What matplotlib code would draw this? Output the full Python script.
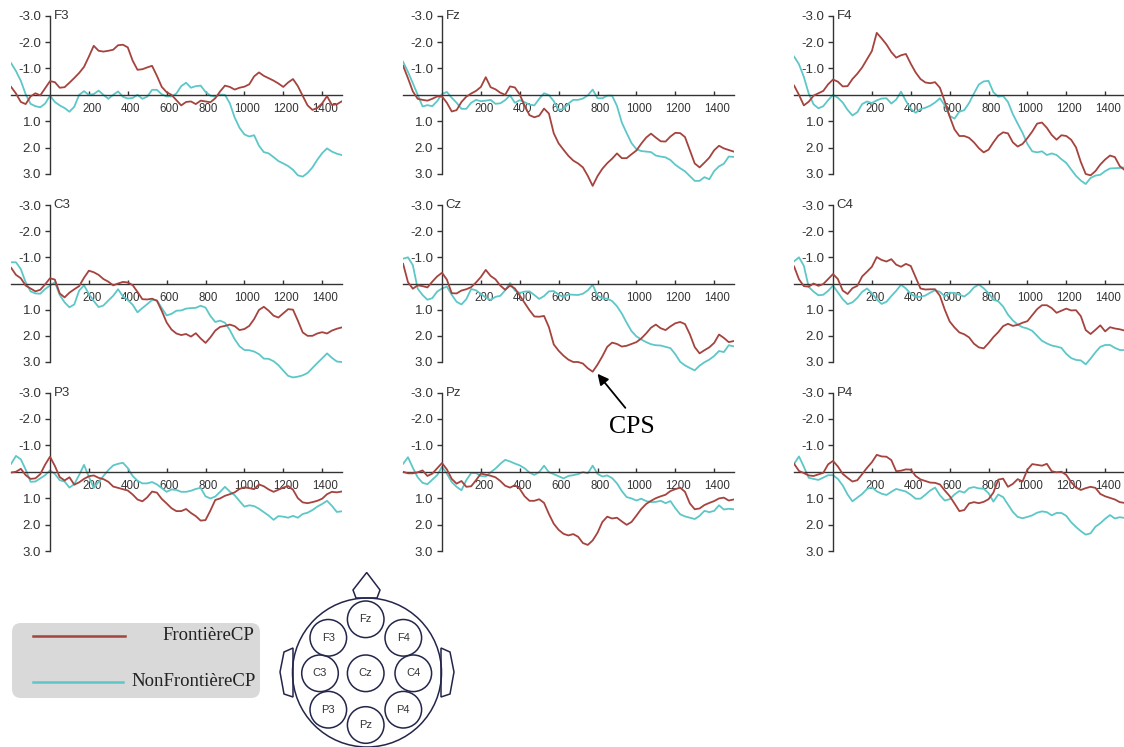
import numpy as np
import matplotlib.pyplot as plt
from matplotlib.patches import Circle, Polygon, FancyBboxPatch
from matplotlib.transforms import ScaledTranslation

# time axis (ms), channels and conditions
times = [-200, -175, -150, -125, -100, -75, -50, -25, 0, 25,
         50, 75, 100, 125, 150, 175, 200, 225, 250, 275,
         300, 325, 350, 375, 400, 425, 450, 475, 500, 525,
         550, 575, 600, 625, 650, 675, 700, 725, 750, 775,
         800, 825, 850, 875, 900, 925, 950, 975, 1000, 1025,
         1050, 1075, 1100, 1125, 1150, 1175, 1200, 1225, 1250, 1275,
         1300, 1325, 1350, 1375, 1400, 1425, 1450, 1475, 1500]
channels = ['F3', 'Fz', 'F4', 'C3', 'Cz', 'C4', 'P3', 'Pz', 'P4']
conditions = ['FrontièreCP', 'NonFrontièreCP']

# amplitudes (microvolts), FrontièreCP
front_F3 = [-0.3, -0.05, 0.27, 0.35, 0.06, -0.06, 0.02, -0.25, -0.52, -0.48,
            -0.27, -0.29, -0.46, -0.64, -0.83, -1.06, -1.45, -1.86, -1.67, -1.64,
            -1.67, -1.71, -1.88, -1.9, -1.8, -1.3, -0.95, -0.97, -1.04, -1.1,
            -0.72, -0.3, -0.1, 0.0, 0.2, 0.4, 0.27, 0.25, 0.35, 0.22,
            0.25, 0.28, 0.13, -0.13, -0.35, -0.3, -0.2, -0.27, -0.31, -0.4,
            -0.7, -0.85, -0.72, -0.63, -0.54, -0.43, -0.3, -0.47, -0.6, -0.33,
            0.04, 0.4, 0.57, 0.5, 0.32, 0.05, 0.38, 0.36, 0.25]
front_Fz = [-1.1, -0.63, -0.13, 0.15, 0.19, 0.22, 0.15, 0.06, 0.06, 0.3,
            0.63, 0.58, 0.27, 0.07, -0.05, -0.15, -0.3, -0.67, -0.29, -0.21,
            -0.08, 0.0, -0.32, -0.28, -0.01, 0.41, 0.77, 0.85, 0.79, 0.52,
            0.71, 1.46, 1.84, 2.08, 2.31, 2.49, 2.6, 2.75, 3.07, 3.45,
            3.08, 2.8, 2.59, 2.42, 2.22, 2.4, 2.4, 2.25, 2.11, 1.85,
            1.62, 1.47, 1.62, 1.76, 1.77, 1.58, 1.44, 1.45, 1.6, 2.1,
            2.6, 2.75, 2.57, 2.38, 2.1, 1.93, 2.03, 2.09, 2.15]
front_F4 = [-0.35, 0.0, 0.4, 0.26, 0.03, -0.06, -0.15, -0.4, -0.58, -0.5,
            -0.32, -0.33, -0.6, -0.8, -1.04, -1.35, -1.66, -2.35, -2.14, -1.91,
            -1.62, -1.41, -1.5, -1.55, -1.18, -0.85, -0.6, -0.47, -0.44, -0.48,
            -0.27, 0.25, 0.82, 1.31, 1.56, 1.56, 1.63, 1.8, 2.02, 2.18,
            2.08, 1.8, 1.55, 1.42, 1.46, 1.8, 1.96, 1.86, 1.64, 1.39,
            1.09, 1.05, 1.25, 1.52, 1.7, 1.53, 1.56, 1.7, 1.99, 2.55,
            3.0, 3.05, 2.89, 2.64, 2.45, 2.3, 2.36, 2.7, 2.85]
front_C3 = [-0.6, -0.33, -0.2, 0.08, 0.19, 0.3, 0.24, 0.03, -0.2, -0.15,
            0.38, 0.53, 0.35, 0.22, 0.1, -0.22, -0.49, -0.43, -0.33, -0.17,
            -0.07, 0.07, 0.0, -0.06, -0.04, 0.06, 0.32, 0.6, 0.61, 0.58,
            0.66, 1.05, 1.49, 1.76, 1.91, 1.97, 1.93, 2.03, 1.9, 2.1,
            2.27, 2.06, 1.8, 1.66, 1.62, 1.57, 1.63, 1.78, 1.74, 1.62,
            1.36, 1.01, 0.89, 1.04, 1.23, 1.3, 1.14, 0.98, 1.0, 1.42,
            1.87, 2.0, 2.0, 1.91, 1.86, 1.91, 1.8, 1.73, 1.68]
front_Cz = [-0.75, -0.05, 0.2, 0.07, 0.1, 0.15, -0.07, -0.27, -0.41, -0.15,
            0.37, 0.38, 0.27, 0.22, 0.14, -0.04, -0.25, -0.52, -0.29, -0.16,
            0.08, 0.24, 0.08, 0.19, 0.46, 0.74, 1.02, 1.26, 1.27, 1.24,
            1.67, 2.33, 2.57, 2.76, 2.91, 3.0, 3.0, 3.06, 3.24, 3.37,
            3.1, 2.78, 2.42, 2.26, 2.31, 2.41, 2.38, 2.31, 2.24, 2.1,
            1.91, 1.69, 1.57, 1.71, 1.78, 1.64, 1.52, 1.47, 1.55, 1.94,
            2.43, 2.67, 2.55, 2.44, 2.27, 1.95, 2.08, 2.24, 2.2]
front_C4 = [-0.65, -0.16, 0.1, 0.12, 0.0, 0.09, 0.02, -0.17, -0.36, -0.17,
            0.27, 0.4, 0.18, 0.09, -0.27, -0.45, -0.64, -1.01, -0.9, -0.84,
            -0.93, -0.72, -0.64, -0.75, -0.67, -0.24, 0.19, 0.23, 0.22, 0.22,
            0.47, 1.0, 1.45, 1.68, 1.87, 1.94, 2.06, 2.3, 2.44, 2.48,
            2.28, 2.05, 1.86, 1.63, 1.54, 1.62, 1.58, 1.5, 1.44, 1.21,
            0.98, 0.83, 0.83, 0.94, 1.12, 1.04, 0.96, 1.03, 1.02, 1.25,
            1.78, 1.93, 1.77, 1.6, 1.83, 1.67, 1.72, 1.75, 1.8]
front_P3 = [0.03, 0.0, -0.11, 0.13, 0.27, 0.25, 0.09, -0.27, -0.57, -0.22,
            0.2, 0.33, 0.21, 0.49, 0.4, 0.27, 0.17, 0.14, 0.23, 0.28,
            0.38, 0.56, 0.61, 0.66, 0.71, 0.86, 1.05, 1.12, 0.97, 0.75,
            0.79, 1.03, 1.2, 1.38, 1.49, 1.49, 1.41, 1.56, 1.68, 1.85,
            1.83, 1.47, 1.07, 1.01, 0.91, 0.85, 0.78, 0.65, 0.59, 0.62,
            0.66, 0.48, 0.55, 0.67, 0.76, 0.68, 0.6, 0.54, 0.68, 1.0,
            1.16, 1.19, 1.15, 1.1, 1.02, 0.85, 0.76, 0.78, 0.75]
front_Pz = [0.0, 0.06, 0.06, 0.02, -0.05, 0.16, 0.07, -0.13, -0.33, -0.09,
            0.27, 0.45, 0.35, 0.57, 0.55, 0.32, 0.07, 0.11, 0.15, 0.21,
            0.35, 0.53, 0.6, 0.51, 0.65, 0.93, 1.1, 1.1, 1.04, 1.18,
            1.6, 1.97, 2.2, 2.35, 2.41, 2.36, 2.46, 2.7, 2.77, 2.6,
            2.31, 1.9, 1.7, 1.77, 1.74, 1.88, 2.01, 1.9, 1.66, 1.41,
            1.22, 1.1, 1.0, 0.93, 0.87, 0.73, 0.66, 0.6, 0.76, 1.2,
            1.42, 1.39, 1.26, 1.18, 1.11, 1.01, 0.98, 1.09, 1.05]
front_P4 = [-0.3, -0.03, 0.05, 0.14, 0.16, 0.1, 0.04, -0.28, -0.41, -0.2,
            0.08, 0.23, 0.37, 0.32, 0.09, -0.15, -0.36, -0.64, -0.58, -0.57,
            -0.44, -0.02, -0.04, -0.09, -0.08, 0.16, 0.29, 0.35, 0.41, 0.42,
            0.48, 0.71, 0.92, 1.2, 1.49, 1.45, 1.2, 1.15, 1.19, 1.14,
            1.04, 0.79, 0.3, 0.26, 0.57, 0.46, 0.28, 0.37, -0.08, -0.29,
            -0.26, -0.23, -0.3, -0.02, 0.02, 0.0, 0.12, 0.39, 0.6, 0.69,
            0.62, 0.57, 0.61, 0.84, 0.93, 0.99, 1.05, 1.15, 1.18]

# amplitudes (microvolts), NonFrontièreCP
nonfront_F3 = [-1.2, -0.9, -0.53, -0.02, 0.34, 0.43, 0.47, 0.33, 0.03, 0.27,
               0.4, 0.5, 0.64, 0.45, 0.0, -0.14, 0.0, -0.03, -0.16, 0.0,
               0.15, 0.0, -0.13, 0.07, 0.14, 0.12, 0.0, 0.15, 0.07, -0.19,
               -0.19, -0.02, 0.06, 0.06, -0.05, -0.33, -0.46, -0.27, -0.33, -0.35,
               -0.11, 0.03, 0.07, -0.01, 0.0, 0.32, 0.86, 1.25, 1.5, 1.58,
               1.53, 1.93, 2.17, 2.22, 2.36, 2.51, 2.6, 2.7, 2.84, 3.05,
               3.1, 2.96, 2.75, 2.46, 2.21, 2.03, 2.15, 2.23, 2.28]
nonfront_Fz = [-1.25, -0.87, -0.44, 0.0, 0.44, 0.39, 0.43, 0.24, -0.03, -0.11,
               0.11, 0.3, 0.53, 0.53, 0.3, 0.19, 0.24, 0.22, 0.19, 0.34,
               0.32, 0.2, 0.02, 0.3, 0.2, 0.28, 0.37, 0.4, 0.15, -0.06,
               0.01, 0.24, 0.57, 0.54, 0.33, 0.19, 0.19, 0.14, 0.02, -0.2,
               0.13, 0.13, 0.03, 0.03, 0.42, 1.05, 1.45, 1.83, 2.06, 2.13,
               2.15, 2.17, 2.3, 2.34, 2.37, 2.47, 2.65, 2.78, 2.9, 3.08,
               3.26, 3.26, 3.12, 3.2, 2.89, 2.71, 2.61, 2.34, 2.35]
nonfront_F4 = [-1.45, -1.16, -0.68, -0.05, 0.36, 0.51, 0.43, 0.2, 0.0, 0.11,
               0.29, 0.57, 0.78, 0.66, 0.35, 0.25, 0.31, 0.21, 0.14, 0.13,
               0.33, 0.18, -0.12, 0.23, 0.53, 0.68, 0.54, 0.49, 0.41, 0.29,
               0.13, 0.4, 0.8, 0.9, 0.64, 0.58, 0.31, -0.05, -0.39, -0.51,
               -0.53, -0.1, 0.07, 0.04, 0.27, 0.73, 1.09, 1.44, 1.86, 2.14,
               2.18, 2.14, 2.28, 2.22, 2.28, 2.44, 2.58, 2.83, 3.07, 3.25,
               3.38, 3.15, 3.06, 3.03, 2.89, 2.79, 2.78, 2.77, 2.75]
nonfront_C3 = [-0.81, -0.81, -0.55, -0.04, 0.3, 0.38, 0.39, 0.21, 0.08, -0.05,
               0.44, 0.72, 0.91, 0.8, 0.27, 0.07, 0.4, 0.67, 0.9, 0.84,
               0.65, 0.47, 0.22, 0.49, 0.63, 0.81, 1.1, 0.94, 0.79, 0.63,
               0.64, 0.94, 1.22, 1.16, 1.04, 1.03, 0.96, 0.94, 0.93, 0.85,
               0.92, 1.24, 1.47, 1.42, 1.5, 1.78, 2.13, 2.4, 2.54, 2.55,
               2.6, 2.7, 2.87, 2.88, 2.97, 3.12, 3.33, 3.53, 3.59, 3.56,
               3.51, 3.42, 3.23, 3.04, 2.86, 2.67, 2.84, 2.98, 3.0]
nonfront_Cz = [-0.95, -1.0, -0.7, 0.2, 0.44, 0.62, 0.56, 0.31, 0.19, 0.12,
               0.43, 0.7, 0.8, 0.6, 0.21, 0.26, 0.4, 0.54, 0.63, 0.51,
               0.47, 0.26, -0.02, 0.27, 0.36, 0.31, 0.3, 0.44, 0.59, 0.48,
               0.3, 0.29, 0.43, 0.52, 0.42, 0.43, 0.44, 0.39, 0.26, 0.05,
               0.46, 0.57, 0.58, 0.67, 0.87, 1.15, 1.5, 1.82, 2.02, 2.14,
               2.24, 2.32, 2.36, 2.37, 2.42, 2.47, 2.7, 2.99, 3.13, 3.23,
               3.32, 3.14, 3.01, 2.91, 2.77, 2.58, 2.62, 2.36, 2.4]
nonfront_C4 = [-0.85, -1.0, -0.68, 0.13, 0.31, 0.45, 0.43, 0.28, 0.08, 0.34,
               0.6, 0.79, 0.72, 0.55, 0.32, 0.19, 0.37, 0.61, 0.78, 0.7,
               0.48, 0.28, 0.05, 0.19, 0.4, 0.51, 0.51, 0.46, 0.35, 0.26,
               0.32, 0.49, 0.35, 0.36, 0.43, 0.5, 0.36, 0.15, 0.04, 0.18,
               0.37, 0.62, 0.68, 0.88, 1.19, 1.41, 1.57, 1.67, 1.72, 1.81,
               2.0, 2.19, 2.29, 2.37, 2.41, 2.46, 2.69, 2.85, 2.92, 2.94,
               3.09, 2.87, 2.63, 2.42, 2.35, 2.35, 2.46, 2.54, 2.55]
nonfront_P3 = [-0.3, -0.6, -0.47, -0.08, 0.38, 0.37, 0.25, 0.13, -0.05, 0.08,
               0.32, 0.37, 0.6, 0.47, 0.12, -0.26, 0.19, 0.61, 0.38, 0.16,
               -0.06, -0.24, -0.3, -0.34, -0.14, 0.16, 0.34, 0.44, 0.44, 0.39,
               0.48, 0.62, 0.76, 0.67, 0.69, 0.76, 0.76, 0.72, 0.65, 0.61,
               0.93, 1.01, 0.94, 0.76, 0.57, 0.75, 0.89, 1.11, 1.32, 1.27,
               1.3, 1.4, 1.53, 1.66, 1.82, 1.68, 1.7, 1.74, 1.67, 1.74,
               1.6, 1.55, 1.45, 1.32, 1.22, 1.1, 1.29, 1.52, 1.5]
nonfront_Pz = [-0.3, -0.55, -0.15, 0.21, 0.42, 0.47, 0.3, 0.13, -0.19, 0.07,
               0.39, 0.57, 0.7, 0.32, 0.05, 0.05, 0.16, 0.18, 0.02, -0.12,
               -0.3, -0.45, -0.39, -0.31, -0.24, -0.13, 0.03, 0.12, 0.01, -0.23,
               0.02, 0.09, 0.17, 0.25, 0.16, 0.13, 0.09, 0.01, 0.06, -0.23,
               0.08, 0.18, 0.14, 0.24, 0.44, 0.73, 0.96, 1.01, 1.09, 1.02,
               1.11, 1.15, 1.14, 1.1, 1.19, 1.11, 1.38, 1.61, 1.69, 1.74,
               1.79, 1.67, 1.48, 1.53, 1.48, 1.27, 1.43, 1.4, 1.42]
nonfront_P4 = [-0.3, -0.58, -0.19, 0.23, 0.27, 0.31, 0.22, 0.13, 0.13, 0.27,
               0.52, 0.86, 1.12, 0.98, 0.84, 0.65, 0.59, 0.74, 0.83, 0.88,
               0.76, 0.65, 0.7, 0.75, 0.87, 1.02, 1.02, 0.87, 0.71, 0.6,
               0.89, 1.09, 1.04, 0.86, 0.73, 0.79, 0.62, 0.58, 0.63, 0.64,
               0.81, 1.13, 0.86, 0.96, 1.24, 1.52, 1.71, 1.76, 1.71, 1.65,
               1.55, 1.5, 1.53, 1.65, 1.56, 1.56, 1.67, 1.91, 2.09, 2.25,
               2.38, 2.33, 2.08, 1.95, 1.78, 1.64, 1.77, 1.72, 1.75]

front = [front_F3, front_Fz, front_F4, front_C3, front_Cz, front_C4, front_P3, front_Pz, front_P4]
nonfront = [nonfront_F3, nonfront_Fz, nonfront_F4, nonfront_C3, nonfront_Cz, nonfront_C4,
            nonfront_P3, nonfront_Pz, nonfront_P4]

RED = '#A5433E'
CYAN = '#5DC7C8'
AXC = '#333333'
plt.rcParams['font.family'] = ['Liberation Sans', 'DejaVu Sans']

W, H = 1124, 747
fig = plt.figure(figsize=(W / 100, H / 100), dpi=100)

# panel placement in pixels: x of the 0 ms axis, y of the -3.0 and 3.0 ticks
col_x0 = [50, 442, 833]
row_ym3 = [15.7, 205, 392.5]
row_y3 = [174, 362, 551]
SX = 0.1944  # px per ms
YMIN, YMAX = -3.3, 3.8

axes = []
for i, ch in enumerate(channels):
    r, c = divmod(i, 3)
    x0 = col_x0[c]
    unit = (row_y3[r] - row_ym3[r]) / 6
    left = x0 - 200 * SX
    right = x0 + 1500 * SX
    top = row_ym3[r] - (-3 - YMIN) * unit
    bottom = row_y3[r] + (YMAX - 3) * unit
    ax = fig.add_axes([left / W, 1 - bottom / H, (right - left) / W, (bottom - top) / H])
    ax.patch.set_visible(False)
    ax.plot(times, front[i], color=RED, lw=1.3, zorder=3, solid_joinstyle='round')
    ax.plot(times, nonfront[i], color=CYAN, lw=1.3, zorder=2, solid_joinstyle='round')
    ax.set_xlim(-200, 1500)
    ax.set_ylim(YMAX, YMIN)
    for s in ['top', 'right']:
        ax.spines[s].set_visible(False)
    ax.spines['left'].set_position(('data', 0))
    ax.spines['bottom'].set_position(('data', 0))
    ax.spines['left'].set_bounds(-3, 3)
    ax.spines['bottom'].set_bounds(-200, 1500)
    for s in ['left', 'bottom']:
        ax.spines[s].set_color(AXC)
        ax.spines[s].set_linewidth(1.0)
    yt = [-3, -2, -1, 1, 2, 3]
    ax.set_yticks(yt)
    ax.set_yticklabels([f'{v:.1f}' for v in yt])
    xt = [200, 400, 600, 800, 1000, 1200, 1400]
    ax.set_xticks(xt)
    ax.set_xticklabels([str(v) for v in xt])
    ax.tick_params(axis='y', direction='out', length=3.5, width=1, pad=3,
                   labelsize=9.5, color=AXC, labelcolor=AXC)
    ax.tick_params(axis='x', direction='in', length=3, width=1, pad=6,
                   labelsize=8.3, color=AXC, labelcolor=AXC)
    shift = ScaledTranslation(2 / 72, 0, fig.dpi_scale_trans)
    for lbl in ax.get_xticklabels():
        lbl.set_transform(lbl.get_transform() + shift)
    ax.text(18, -3, ch, ha='left', va='center', fontsize=9.5, color=AXC)
    axes.append(ax)

# CPS annotation on Cz
axes[4].annotate('CPS', xy=(800, 3.45), xycoords='data', xytext=(632, H - 427),
                 textcoords='figure pixels', ha='center', va='center', fontsize=18.5,
                 family='Liberation Serif', annotation_clip=False,
                 arrowprops=dict(arrowstyle='-|>', color='black', lw=1.3, mutation_scale=16,
                                 shrinkA=5, shrinkB=0, relpos=(0.5, 1)))

# overlay for legend and electrode map
ov = fig.add_axes([0, 0, 1, 1])
ov.set_xlim(0, W)
ov.set_ylim(H, 0)
ov.axis('off')

ov.add_patch(FancyBboxPatch((12, 623), 248, 75, boxstyle='round,pad=0,rounding_size=9',
                            fc='#D9D9D9', ec='none'))
ov.plot([33, 125], [636, 636], color=RED, lw=1.8)
ov.plot([33, 123], [682, 682], color=CYAN, lw=1.8)
ov.text(254, 636, conditions[0], ha='right', va='center', fontsize=13.5,
        family='Liberation Serif', color='#222222')
ov.text(256, 682, conditions[1], ha='right', va='center', fontsize=13.5,
        family='Liberation Serif', color='#222222')

NAVY = '#23264A'
ov.add_patch(Circle((367, 672.5), 74.5, fill=False, ec=NAVY, lw=1.1))
ov.add_patch(Polygon([(356, 598), (353, 590), (366.7, 572.5), (380, 590), (377, 598)],
                     closed=True, fill=False, ec=NAVY, lw=1.1))
ov.add_patch(Polygon([(293, 648), (284, 652), (280, 672), (284, 694), (293, 697)],
                     closed=True, fill=False, ec=NAVY, lw=1.1))
ov.add_patch(Polygon([(441, 648), (450, 652), (454, 672), (450, 694), (441, 697)],
                     closed=True, fill=False, ec=NAVY, lw=1.1))
elec_pos = {'Fz': (365.7, 619.3), 'F3': (328.3, 637.8), 'F4': (403.3, 637.8),
            'C3': (320, 673.3), 'Cz': (365.7, 673.3), 'C4': (413.3, 673.3),
            'P3': (328.3, 709.7), 'Pz': (365.7, 725), 'P4': (403.3, 709.7)}
for ch in channels:
    x, y = elec_pos[ch]
    ov.add_patch(Circle((x, y), 18.3, fill=False, ec=NAVY, lw=1.1))
    ov.text(x, y, ch, ha='center', va='center', fontsize=8, color='#333333')

fig.savefig('out.png', dpi=100)
